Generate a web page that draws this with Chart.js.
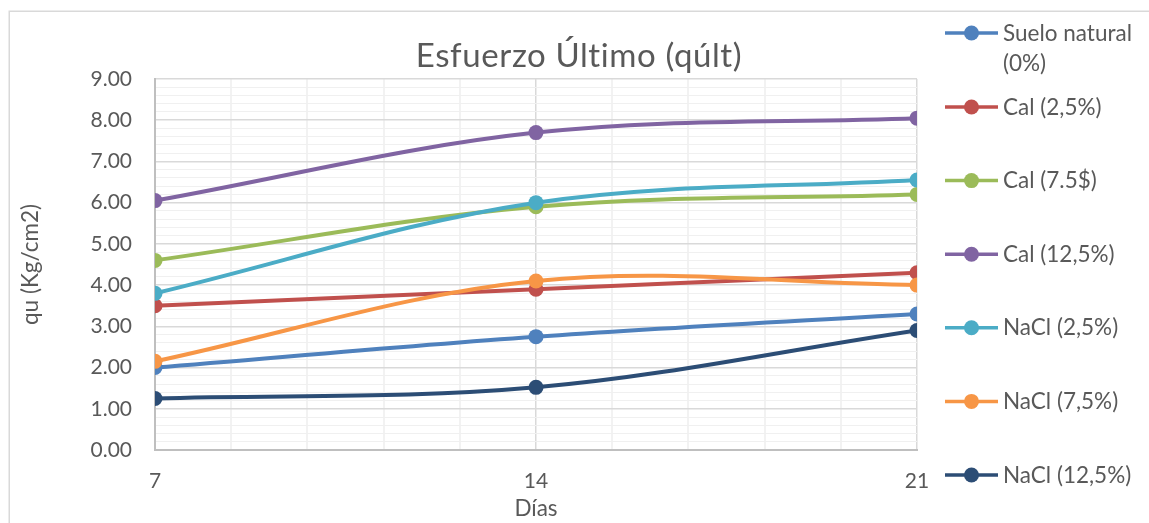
<!DOCTYPE html>
<html>
<head>
<meta charset="utf-8">
<script src="https://cdn.jsdelivr.net/npm/chart.js@4/dist/chart.umd.min.js"></script>
<style>
  html, body { margin: 0; padding: 0; background: #ffffff; }
  #c { display: block; }
</style>
</head>
<body>
<canvas id="c" width="1149" height="523"></canvas>
<script>
// Curing time (days) and unconfined compressive strength qu (kg/cm2) per mix
const days = [7, 14, 21];
const sueloNatural = [2.00, 2.75, 3.30];
const cal25 = [3.50, 3.90, 4.30];
const cal75 = [4.60, 5.90, 6.20];
const cal125 = [6.05, 7.70, 8.05];
const nacl25 = [3.80, 6.00, 6.55];
const nacl75 = [2.15, 4.10, 4.00];
const nacl125 = [1.25, 1.52, 2.90];

const seriesNames = [['Suelo natural', '(0%)'], 'Cal (2,5%)', 'Cal (7.5$)', 'Cal (12,5%)',
                     'NaCl (2,5%)', 'NaCl (7,5%)', 'NaCl (12,5%)'];
const seriesValues = [sueloNatural, cal25, cal75, cal125, nacl25, nacl75, nacl125];
const seriesColors = ['#4F81BD', '#C0504D', '#9BBB59', '#8064A2', '#4BACC6', '#F79646', '#2C4D75'];

const xTickLabels = [7, 14, 21];
const yTickLabels = [0, 1, 2, 3, 4, 5, 6, 7, 8, 9];

const FONT = 'Lato, "Open Sans", sans-serif';
const TEXT = '#595959';

const datasets = seriesValues.map((vals, i) => ({
  label: Array.isArray(seriesNames[i]) ? seriesNames[i].join(' ') : seriesNames[i],
  data: vals.map((v, k) => ({ x: days[k], y: v })),
  borderColor: seriesColors[i],
  backgroundColor: seriesColors[i],
  pointBackgroundColor: seriesColors[i],
  order: seriesValues.length - i
}));

const isOn = (v, list) => list.some(t => Math.abs(t - v) < 1e-6);

// Frame, chart title and the legend column on the right
const decorations = {
  id: 'decorations',
  beforeDraw(chart) {
    const ctx = chart.ctx;
    ctx.save();
    ctx.fillStyle = '#ffffff';
    ctx.fillRect(0, 0, chart.width, chart.height);
    ctx.strokeStyle = '#d9d9d9';
    ctx.lineWidth = 1.5;
    ctx.strokeRect(9.25, 11.25, 1150, 530);
    ctx.restore();
  },
  afterDraw(chart) {
    const ctx = chart.ctx;
    ctx.save();
    ctx.fillStyle = TEXT;
    ctx.font = '33px ' + FONT;
    ctx.letterSpacing = '0.6px';
    ctx.textAlign = 'center';
    ctx.textBaseline = 'alphabetic';
    ctx.fillText('Esfuerzo Último (qúlt)', 579, 67);
    ctx.letterSpacing = '0px';

    ctx.font = '22.5px ' + FONT;
    ctx.textAlign = 'left';
    seriesNames.forEach((name, i) => {
      const cy = i === 0 ? 33 : 107 + (i - 1) * 73.6;
      ctx.strokeStyle = seriesColors[i];
      ctx.lineWidth = 3.5;
      ctx.beginPath();
      ctx.moveTo(945, cy);
      ctx.lineTo(998, cy);
      ctx.stroke();
      ctx.fillStyle = seriesColors[i];
      ctx.beginPath();
      ctx.arc(971.5, cy, 7.5, 0, Math.PI * 2);
      ctx.fill();
      ctx.fillStyle = TEXT;
      const lines = Array.isArray(name) ? name : [name];
      lines.forEach((ln, j) => ctx.fillText(ln, 1003, cy + 7.5 + j * 30));
    });
    ctx.restore();
  }
};

new Chart(document.getElementById('c'), {
  type: 'line',
  data: { datasets },
  plugins: [decorations],
  options: {
    responsive: false,
    animation: false,
    devicePixelRatio: 1,
    layout: { padding: { left: 10, top: 79, right: 232, bottom: 0 } },
    plugins: {
      legend: { display: false },
      title: { display: false },
      tooltip: { enabled: false }
    },
    elements: {
      line: { tension: 0.35, borderWidth: 4, fill: false },
      point: { radius: 7.5, borderWidth: 0, hoverRadius: 7.5 }
    },
    scales: {
      x: {
        type: 'linear',
        min: 7,
        max: 21,
        afterFit: s => { s.height = 73; },
        ticks: {
          stepSize: 1.4,
          autoSkip: false,
          maxRotation: 0,
          padding: 19,
          color: TEXT,
          font: { family: FONT, size: 21 },
          callback: v => isOn(v, xTickLabels) ? String(Math.round(v)) : ''
        },
        grid: {
          drawTicks: false,
          color: c => isOn(c.tick.value, [14, 21]) ? '#d9d9d9' : '#f2f2f2',
          lineWidth: c => isOn(c.tick.value, [14, 21]) ? 1.5 : 2
        },
        border: { color: '#bfbfbf', width: 2 },
        title: {
          display: true,
          text: 'Días',
          color: TEXT,
          font: { family: FONT, size: 22.5 },
          padding: { top: 0, bottom: 1 }
        }
      },
      y: {
        min: 0,
        max: 9,
        afterFit: s => { s.width = 145; },
        ticks: {
          stepSize: 0.2,
          autoSkip: false,
          padding: 23,
          color: TEXT,
          font: { family: FONT, size: 21 },
          callback: v => isOn(v, yTickLabels) ? Number(v).toFixed(2) : ''
        },
        grid: {
          drawTicks: false,
          color: c => isOn(c.tick.value, yTickLabels) ? '#d9d9d9' : '#f0f0f0',
          lineWidth: c => isOn(c.tick.value, yTickLabels) ? 1.5 : 1
        },
        border: { color: '#bfbfbf', width: 2 },
        title: {
          display: true,
          text: 'qu (Kg/cm2)',
          color: TEXT,
          font: { family: FONT, size: 22.5 },
          padding: { top: 7, bottom: 0 }
        }
      }
    }
  }
});
</script>
</body>
</html>
